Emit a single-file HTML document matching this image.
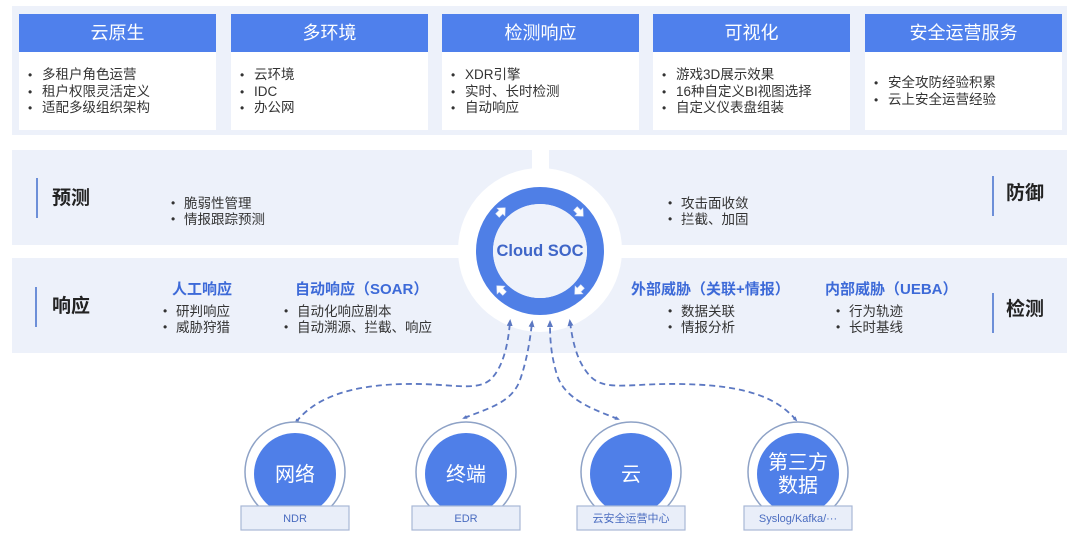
<!DOCTYPE html>
<html><head><meta charset="utf-8">
<style>
*{margin:0;padding:0;box-sizing:border-box}
body{width:1080px;height:541px;background:#fff;position:relative;overflow:hidden;font-family:"Liberation Sans","Noto Sans CJK SC",sans-serif;color:#333}
.abs{position:absolute}
.panel{position:absolute;background:#edf1fa}
.card{position:absolute;top:14px;width:197px;height:116px;background:#fff}
.hdr{height:38px;background:#4f80ec;color:#fff;font-size:18px;line-height:38px;text-align:center}
.lst{position:absolute;left:0;font-size:13.5px;line-height:16.5px;color:#333;white-space:nowrap}
.lst div{position:relative;padding-left:23px}
.lst div:before{content:"•";position:absolute;left:9px;top:0;font-size:12px}
.lab{position:absolute;font-size:19px;font-weight:bold;color:#222;line-height:24px;white-space:nowrap}
.bar{position:absolute;width:2px;height:40px;background:#6d8fd8}
.bl{position:absolute;font-size:13.5px;line-height:15.5px;color:#333;white-space:nowrap}
.bl div{position:relative;padding-left:13px}
.bl div:before{content:"•";position:absolute;left:0;top:0;font-size:12px}
.hd{position:absolute;font-size:15px;font-weight:bold;color:#3d6ad8;line-height:18px;white-space:nowrap}
</style></head><body>

<div class="panel" style="left:12px;top:6px;width:1055px;height:129px"></div>

<div class="card" style="left:19px"><div class="hdr">云原生</div>
<div class="lst" style="top:53px"><div>多租户角色运营</div><div>租户权限灵活定义</div><div>适配多级组织架构</div></div></div>
<div class="card" style="left:231px"><div class="hdr">多环境</div>
<div class="lst" style="top:53px"><div>云环境</div><div>IDC</div><div>办公网</div></div></div>
<div class="card" style="left:442px"><div class="hdr">检测响应</div>
<div class="lst" style="top:53px"><div>XDR引擎</div><div>实时、长时检测</div><div>自动响应</div></div></div>
<div class="card" style="left:653px"><div class="hdr">可视化</div>
<div class="lst" style="top:53px"><div>游戏3D展示效果</div><div>16种自定义BI视图选择</div><div>自定义仪表盘组装</div></div></div>
<div class="card" style="left:865px"><div class="hdr">安全运营服务</div>
<div class="lst" style="top:61px"><div>安全攻防经验积累</div><div>云上安全运营经验</div></div></div>

<div class="panel" style="left:12px;top:150px;width:520px;height:95px"></div>
<div class="panel" style="left:549px;top:150px;width:518px;height:95px"></div>
<div class="panel" style="left:12px;top:258px;width:1055px;height:95px"></div>

<div class="bar" style="left:36px;top:178px"></div>
<div class="lab" style="left:52px;top:187px">预测</div>
<div class="bar" style="left:35px;top:287px"></div>
<div class="lab" style="left:52px;top:295px">响应</div>
<div class="bar" style="left:992px;top:176px"></div>
<div class="lab" style="left:1006px;top:182px">防御</div>
<div class="bar" style="left:992px;top:293px"></div>
<div class="lab" style="left:1006px;top:298px">检测</div>

<div class="bl" style="left:171px;top:196px"><div>脆弱性管理</div><div>情报跟踪预测</div></div>
<div class="bl" style="left:668px;top:196px"><div>攻击面收敛</div><div>拦截、加固</div></div>

<div class="hd" style="left:172px;top:281px">人工响应</div>
<div class="bl" style="left:163px;top:304px"><div>研判响应</div><div>威胁狩猎</div></div>
<div class="hd" style="left:295px;top:281px">自动响应（SOAR）</div>
<div class="bl" style="left:284px;top:304px"><div>自动化响应剧本</div><div>自动溯源、拦截、响应</div></div>
<div class="hd" style="left:631px;top:281px">外部威胁（关联+情报）</div>
<div class="bl" style="left:668px;top:304px"><div>数据关联</div><div>情报分析</div></div>
<div class="hd" style="left:825px;top:281px">内部威胁（UEBA）</div>
<div class="bl" style="left:836px;top:304px"><div>行为轨迹</div><div>长时基线</div></div>

<svg class="abs" style="left:0;top:0" width="1080" height="541" viewBox="0 0 1080 541">
<defs>
<marker id="ah" markerWidth="8" markerHeight="8" refX="4" refY="4" orient="auto" markerUnits="userSpaceOnUse">
<path d="M0,1 L7,4 L0,7 Z" fill="#5c78c2"/></marker>
<marker id="as" markerWidth="6" markerHeight="6" refX="3" refY="3" orient="auto-start-reverse" markerUnits="userSpaceOnUse">
<path d="M0,1 L5,3 L0,5 Z" fill="#5c78c2"/></marker>
</defs>
<circle cx="540" cy="250" r="82" fill="#fff"/>
<circle cx="540" cy="251" r="55.5" fill="none" stroke="#4f7fe6" stroke-width="17"/>
<circle cx="540" cy="251" r="47" fill="#eef2fb"/>
<g fill="#fff" stroke="#dfe6f7" stroke-width="0.6">
<path d="M-5,-2.5 L0,-2.5 L0,-5.5 L6,0 L0,5.5 L0,2.5 L-5,2.5 Z" transform="translate(501,212) rotate(-45)"/>
<path d="M-5,-2.5 L0,-2.5 L0,-5.5 L6,0 L0,5.5 L0,2.5 L-5,2.5 Z" transform="translate(579,212) rotate(45)"/>
<path d="M-5,-2.5 L0,-2.5 L0,-5.5 L6,0 L0,5.5 L0,2.5 L-5,2.5 Z" transform="translate(579,290) rotate(135)"/>
<path d="M-5,-2.5 L0,-2.5 L0,-5.5 L6,0 L0,5.5 L0,2.5 L-5,2.5 Z" transform="translate(501,290) rotate(-135)"/>
</g>
<text x="540" y="256" text-anchor="middle" font-family="Liberation Sans, sans-serif" font-weight="bold" font-size="16.5" fill="#3f66c8">Cloud SOC</text>

<g fill="none" stroke="#5c78c2" stroke-width="1.8" stroke-dasharray="6 4">
<path d="M296,422 C315,398 350,385 405,384 C450,383 475,392 490,380 C503,368 508,345 510,322" marker-end="url(#ah)" marker-start="url(#as)"/>
<path d="M464,418 C490,408 512,402 520,380 C527,360 530,340 532,323" marker-end="url(#ah)" marker-start="url(#as)"/>
<path d="M618,419 C595,410 565,400 557,375 C551,355 550,340 550,323" marker-end="url(#ah)" marker-start="url(#as)"/>
<path d="M796,420 C775,395 740,385 680,384 C630,383 605,392 590,376 C578,363 573,345 570,322" marker-end="url(#ah)" marker-start="url(#as)"/>
</g>

<g>
<circle cx="295" cy="472" r="50" fill="#fff" stroke="#8ea2c6" stroke-width="1.5"/>
<circle cx="295" cy="474" r="41" fill="#4f7fe8"/>
<circle cx="466" cy="472" r="50" fill="#fff" stroke="#8ea2c6" stroke-width="1.5"/>
<circle cx="466" cy="474" r="41" fill="#4f7fe8"/>
<circle cx="631" cy="472" r="50" fill="#fff" stroke="#8ea2c6" stroke-width="1.5"/>
<circle cx="631" cy="474" r="41" fill="#4f7fe8"/>
<circle cx="798" cy="472" r="50" fill="#fff" stroke="#8ea2c6" stroke-width="1.5"/>
<circle cx="798" cy="474" r="41" fill="#4f7fe8"/>
</g>
<g font-family="Liberation Sans, Noto Sans CJK SC, sans-serif" fill="#fff" font-size="20" text-anchor="middle">
<text x="295" y="481">网络</text>
<text x="466" y="481">终端</text>
<text x="631" y="481">云</text>
<text x="798" y="469">第三方</text>
<text x="798" y="492">数据</text>
</g>
<g fill="#e9eef9" stroke="#a9b8d6" stroke-width="1.2">
<rect x="241" y="506" width="108" height="24"/>
<rect x="412" y="506" width="108" height="24"/>
<rect x="577" y="506" width="108" height="24"/>
<rect x="744" y="506" width="108" height="24"/>
</g>
<g font-family="Liberation Sans, Noto Sans CJK SC, sans-serif" fill="#4a6cc0" font-size="11" text-anchor="middle">
<text x="295" y="522">NDR</text>
<text x="466" y="522">EDR</text>
<text x="631" y="522">云安全运营中心</text>
<text x="798" y="522">Syslog/Kafka/···</text>
</g>
</svg>
</body></html>
